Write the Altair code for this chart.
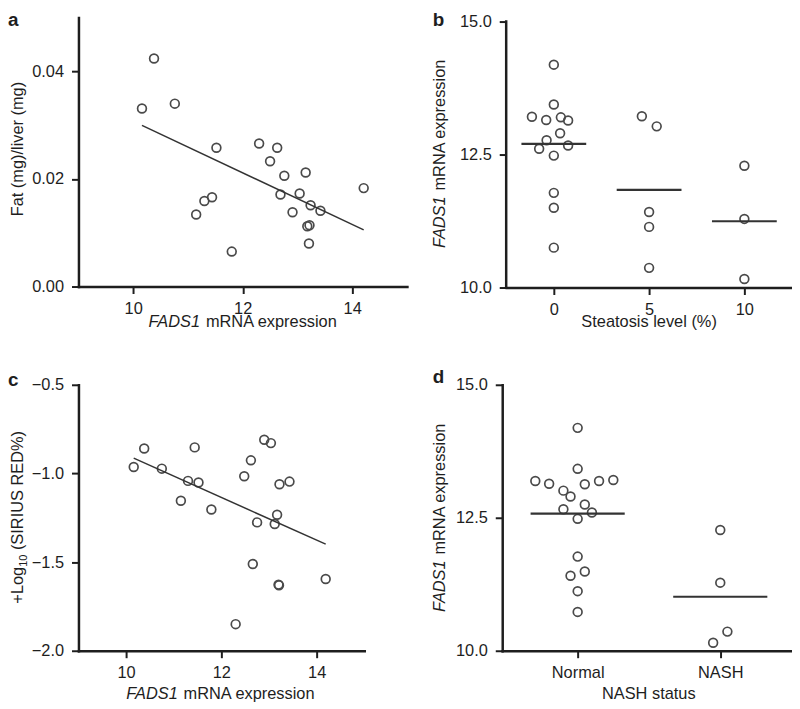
import altair as alt
import pandas as pd

FONT = "Liberation Sans"
FS = 16.5
SUB = 11
LET = 19
INK = "#1e1e1e"
PT = "#4a4a4a"
LINE = "#333333"

# ---------------- data ----------------
# panel a: liver fat vs FADS1 expression
a_expr = [10.16, 10.38, 10.76, 11.15, 11.30, 11.44, 11.52, 11.80, 12.30, 12.50, 12.63,
          12.69, 12.76, 12.91, 13.04, 13.15, 13.18, 13.21, 13.22, 13.24, 13.42, 14.21]
a_fat = [0.0331, 0.0424, 0.0340, 0.0134, 0.0159, 0.0166, 0.0258, 0.0065, 0.0266, 0.0233, 0.0258,
         0.0171, 0.0206, 0.0138, 0.0173, 0.0212, 0.0112, 0.0080, 0.0114, 0.0151, 0.0141, 0.0183]

# panel c: log10 Sirius red vs FADS1 expression
c_expr = [10.16, 10.38, 10.75, 11.15, 11.30, 11.44, 11.52, 11.79, 12.30, 12.48, 12.62,
          12.66, 12.75, 12.90, 13.04, 13.12, 13.17, 13.20, 13.21, 13.22, 13.43, 14.19]
c_sirius = [-0.964, -0.859, -0.973, -1.154, -1.042, -0.853, -1.051, -1.203, -1.850, -1.016, -0.926,
            -1.511, -1.276, -0.810, -0.829, -1.285, -1.233, -1.627, -1.631, -1.061, -1.046, -1.595]

# panel b: FADS1 expression by steatosis level
b_level = [0] * 14 + [5] * 5 + [10] * 3
b_expr = [14.19, 13.44, 13.21, 13.15, 13.20, 13.14, 12.90, 12.77, 12.61, 12.67, 12.48, 11.78, 11.50, 10.75,
          13.22, 13.03, 11.42, 11.14, 10.37,
          12.29, 11.29, 10.16]
b_dodge = [0, 0, -1.15, -0.40, 0.37, 0.75, 0.33, -0.38, -0.77, 0.75, 0, 0, 0, 0,
           -0.38, 0.40, 0, 0, 0,
           0, 0, 0]
b_ticks = [0, 5, 10]

# panel d: FADS1 expression by NASH status
d_categories = ["Normal", "NASH"]
d_status = ["Normal"] * 18 + ["NASH"] * 4
d_expr = [14.19, 13.42, 13.19, 13.14, 13.01, 13.13, 13.19, 13.21, 12.90, 12.75, 12.66, 12.60,
          12.48, 11.77, 11.41, 11.49, 11.12, 10.73,
          12.27, 11.28, 10.36, 10.15]
d_dodge = [0, 0, -0.297, -0.20, -0.10, 0.05, 0.15, 0.25, -0.05, 0.05, -0.10, 0.10,
           0, 0, -0.05, 0.05, 0, 0,
           0, 0, 0.05, -0.05]

expr_x_ticks = [10, 12, 14]
expr_ticks = [10, 12.5, 15]


# ---------------- helpers ----------------
def axis(values, pad, fmt=None, **kw):
    d = dict(values=values, title=None, grid=False, domainColor=INK, domainWidth=2.5,
             domainCap="square", tickColor=INK, tickWidth=2, tickSize=7, labelPadding=pad,
             labelFont=FONT, labelFontSize=FS, labelColor=INK)
    if fmt:
        d["format"] = fmt
    d.update(kw)
    return alt.Axis(**d)


def txt(s, x, y, size=FS, angle=0, italic=False, bold=False, align="left"):
    props = dict(text=s, font=FONT, fontSize=size, color=INK, align=align, baseline="alphabetic")
    if angle:
        props["angle"] = angle
    if italic:
        props["fontStyle"] = "italic"
    if bold:
        props["fontWeight"] = "bold"
    return alt.Chart(pd.DataFrame({"k": [0]})).mark_text(**props).encode(
        x=alt.value(x), y=alt.value(y))


EM_FADS1, EM_SPACE, EM_MRNA = 3.223, 0.278, 8.057


def fads_h(cx, y):
    w1, w2, w3 = EM_FADS1 * FS, EM_SPACE * FS, EM_MRNA * FS
    x0 = cx - (w1 + w2 + w3) / 2
    return [txt("FADS1", x0, y, italic=True), txt("mRNA expression", x0 + w1 + w2, y)]


def fads_v(x, cy):
    w1, w2, w3 = EM_FADS1 * FS, EM_SPACE * FS, EM_MRNA * FS
    y0 = cy + (w1 + w2 + w3) / 2
    return [txt("FADS1", x, y0, angle=270, italic=True),
            txt("mRNA expression", x, y0 - w1 - w2, angle=270)]


def log_v(x, cy):
    w1, w2, w3, w4 = 2.252 * FS, 1.112 * SUB, EM_SPACE * FS, 7.278 * FS
    y0 = cy + (w1 + w2 + w3 + w4) / 2
    return [txt("+Log", x, y0, angle=270),
            txt("10", x + 4, y0 - w1, size=SUB, angle=270),
            txt("(SIRIUS RED%)", x, y0 - w1 - w2 - w3, angle=270)]


def points(base, x, y):
    return base.mark_point(shape="circle", size=78, filled=False, color=PT,
                           strokeWidth=1.7, opacity=1).encode(x=x, y=y)


# ---------------- panel a ----------------
dfa = pd.DataFrame({"expr": a_expr, "fat": a_fat})
ba = alt.Chart(dfa)
xa = alt.X("expr:Q", scale=alt.Scale(domain=[9, 15], nice=False, zero=False),
           axis=axis(expr_x_ticks, 7, "d"))
ya = alt.Y("fat:Q", scale=alt.Scale(domain=[0, 0.05], nice=False),
           axis=axis([0, 0.02, 0.04], 8, ".2f"))
panel_a = alt.layer(
    points(ba, xa, ya),
    ba.transform_regression("expr", "fat").mark_line(color=LINE, strokeWidth=1.5)
      .encode(x="expr:Q", y="fat:Q"),
    txt("a", -71, 8, size=LET, bold=True),
    txt("Fat (mg)/liver (mg)", -56, 132.5, angle=270, align="center"),
    *fads_h(166, 311.5),
).properties(width=331, height=271)

# ---------------- panel b ----------------
dfb = pd.DataFrame({"level": b_level, "expr": b_expr, "dodge": b_dodge})
dfb["pos"] = dfb["level"] + dfb["dodge"]
bb = alt.Chart(dfb)
xb = alt.X("pos:Q", scale=alt.Scale(domain=[-2.5, 12.5], nice=False, zero=False),
           axis=axis(b_ticks, 7, "d"))
yb = alt.Y("expr:Q", scale=alt.Scale(domain=[10, 15.075], nice=False, zero=False),
           axis=axis(expr_ticks, 8, ".1f", domain=False))
panel_b = alt.layer(
    points(bb, xb, yb),
    bb.transform_aggregate(m="mean(expr)", groupby=["level"])
      .transform_calculate(x1="datum.level - 1.7", x2="datum.level + 1.7")
      .mark_rule(color=LINE, strokeWidth=2.2).encode(x="x1:Q", x2="x2:Q", y="m:Q"),
    alt.Chart(pd.DataFrame({"k": [0]})).mark_rule(color=INK, strokeWidth=2.5, strokeCap="square")
      .encode(x=alt.datum(-2.5), y=alt.datum(10), y2=alt.datum(15)),
    txt("b", -74, 8, size=LET, bold=True),
    *fads_v(-62, 136.7),
    txt("Steatosis level (%)", 144, 311.5, align="center"),
).properties(width=288, height=272)

# ---------------- panel c ----------------
dfc = pd.DataFrame({"expr": c_expr, "sirius": c_sirius})
bc = alt.Chart(dfc)
xc = alt.X("expr:Q", scale=alt.Scale(domain=[9, 15], nice=False, zero=False),
           axis=axis(expr_x_ticks, 7, "d"))
yc = alt.Y("sirius:Q", scale=alt.Scale(domain=[-2, -0.5], nice=False, zero=False),
           axis=axis([-2, -1.5, -1, -0.5], 8, ".1f"))
panel_c = alt.layer(
    points(bc, xc, yc),
    bc.transform_regression("expr", "sirius").mark_line(color=LINE, strokeWidth=1.5)
      .encode(x="expr:Q", y="sirius:Q"),
    txt("c", -71, 1, size=LET, bold=True),
    *log_v(-56, 133.5),
    *fads_h(143.5, 317),
).properties(width=288, height=268)

# ---------------- panel d ----------------
dfd = pd.DataFrame({"status": d_status, "expr": d_expr, "dodge": d_dodge})
dfd["code"] = dfd["status"].map({c: i for i, c in enumerate(d_categories)})
dfd["pos"] = dfd["code"] + dfd["dodge"]
bd = alt.Chart(dfd)
label_expr = "datum.value == 0 ? '%s' : '%s'" % (d_categories[0], d_categories[1])
xd = alt.X("pos:Q", scale=alt.Scale(domain=[-0.529, 1.503], nice=False, zero=False),
           axis=axis([0, 1], 7, labelExpr=label_expr))
yd = alt.Y("expr:Q", scale=alt.Scale(domain=[10, 15], nice=False, zero=False),
           axis=axis(expr_ticks, 8, ".1f"))
panel_d = alt.layer(
    points(bd, xd, yd),
    bd.transform_aggregate(m="mean(expr)", groupby=["code"])
      .transform_calculate(x1="datum.code - 0.33", x2="datum.code + 0.33")
      .mark_rule(color=LINE, strokeWidth=2.2).encode(x="x1:Q", x2="x2:Q", y="m:Q"),
    txt("d", -70, -2, size=LET, bold=True),
    *fads_v(-58, 133.5),
    txt("NASH status", 147.7, 317, align="center"),
).properties(width=292, height=268)

row1 = alt.hconcat(panel_a, panel_b, spacing=100, bounds="flush")
row2 = alt.hconcat(panel_c, panel_d, spacing=139, bounds="flush")
chart = alt.vconcat(row1, row2, spacing=38).properties(
    padding=0, background="white"
).configure_view(strokeWidth=0)

chart.save("out.html", embed_options={"renderer": "svg", "actions": False})
